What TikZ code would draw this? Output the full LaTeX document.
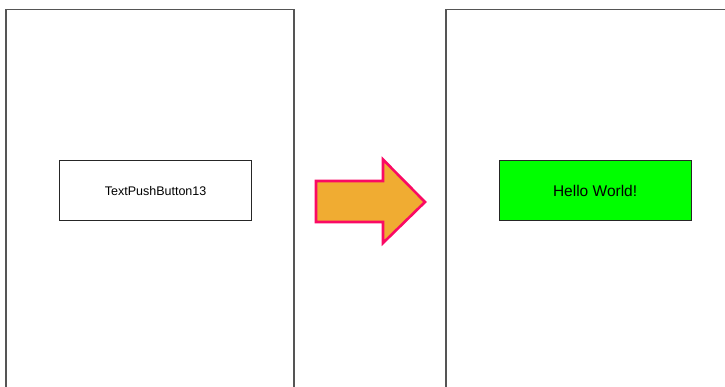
\documentclass[tikz,border=0pt]{standalone}
\usepackage{fontspec}
\setmainfont{Liberation Sans}
\definecolor{panelgray}{RGB}{85,85,85}
\definecolor{arrowfill}{RGB}{240,172,50}
\definecolor{arrowline}{RGB}{250,10,100}
\definecolor{btngreen}{RGB}{0,255,0}
\begin{document}
\begin{tikzpicture}[x=1pt,y=-1pt,
  panel/.style={draw=panelgray,line width=1.4pt},
  btn/.style={draw=black!85,line width=1.2pt,minimum width=192pt,minimum height=60pt,inner sep=0pt,anchor=north west}]
\useasboundingbox[fill=white] (0,0) rectangle (725,387);
\draw[panel] (6,392) -- (6,9.5) -- (294,9.5) -- (294,392);
\draw[panel] (446,392) -- (446,9.5) -- (730,9.5);
\node[btn] (b1) at (59,160) {\fontsize{12.5}{15}\selectfont TextPushButton13};
\node[btn,fill=btngreen] (b2) at (498.5,160) {\fontsize{15.5}{18}\selectfont Hello World!};
\draw[arrowline,fill=arrowfill,line width=2.6pt,line join=miter]
  (316,181) -- (383,181) -- (383,159.5) -- (425,202) -- (383,243) -- (383,222) -- (316,222) -- cycle;
\end{tikzpicture}
\end{document}
